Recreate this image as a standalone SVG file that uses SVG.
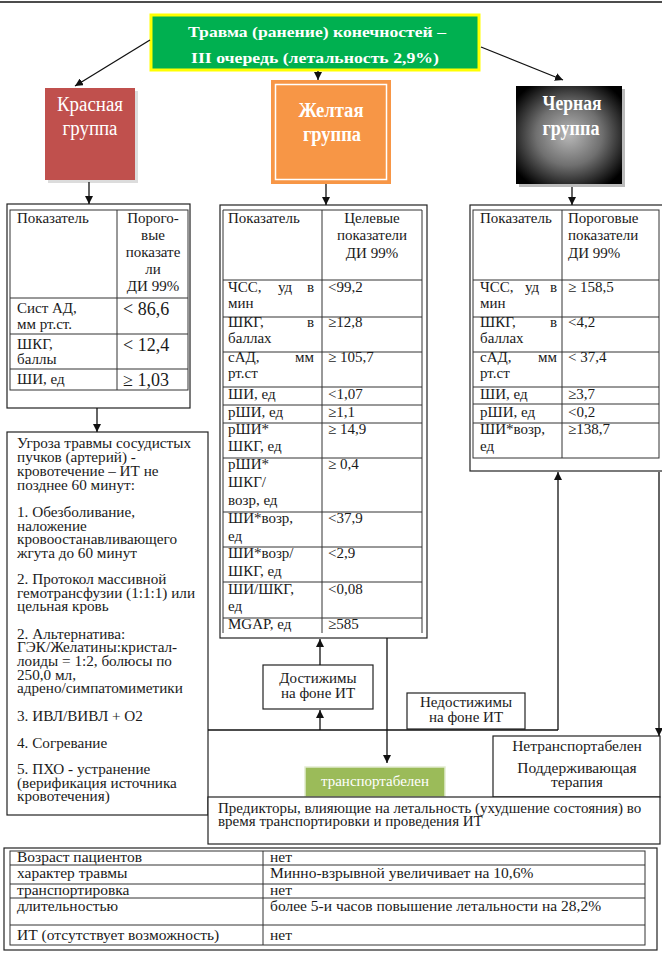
<svg xmlns="http://www.w3.org/2000/svg" width="662" height="955" viewBox="0 0 662 955">
<style>
text{font-family:"Liberation Serif","Times New Roman",serif;fill:#1a1a1a;font-size:15px}
.w{fill:#fff}
.b{font-weight:bold}
.c{text-anchor:middle}
.e{text-anchor:end}
.v{font-size:18px}
.t{font-size:15.2px}
.f{font-size:15.5px}
.g{font-size:20px}
.box{fill:#fff;stroke:#222;stroke-width:1.2}
.grid{fill:none;stroke:#333;stroke-width:1}
.ln{stroke:#111;stroke-width:1.3;fill:none}
</style>
<defs>
<marker id="ah" markerWidth="8" markerHeight="8" refX="8" refY="4" orient="auto" markerUnits="userSpaceOnUse">
<path d="M0,0 L8,4 L0,8 z" fill="#111"/>
</marker>
<radialGradient id="bg" cx="50%" cy="50%" r="62%">
<stop offset="0" stop-color="#b8b8b8"/>
<stop offset="0.5" stop-color="#707070"/>
<stop offset="1" stop-color="#000"/>
</radialGradient>
</defs>
<rect width="662" height="955" fill="#fff"/>
<line x1="0" y1="2" x2="662" y2="2" stroke="#111" stroke-width="1.5"/>

<g id="title">
<rect x="151" y="15" width="328" height="55" fill="#00b050" stroke="#ffff00" stroke-width="3"/>
<text x="317" y="37" class="w b c" font-size="18" textLength="258" lengthAdjust="spacingAndGlyphs">Травма (ранение) конечностей –</text>
<text x="315" y="63" class="w b c" font-size="18" textLength="248" lengthAdjust="spacingAndGlyphs">III очередь (летальность 2,9%)</text>
</g>

<g id="red-group">
<rect x="48" y="91" width="90" height="92" fill="#dcdcdc"/>
<rect x="45" y="88" width="90" height="92" fill="#c0504d"/>
<text x="90" y="111" class="w c g" textLength="66" lengthAdjust="spacingAndGlyphs">Красная</text>
<text x="90" y="135" class="w c g" textLength="55" lengthAdjust="spacingAndGlyphs">группа</text>
</g>

<g id="yellow-group">
<rect x="271" y="80" width="120" height="104" fill="#f79646"/>
<rect x="275.5" y="84.5" width="111" height="95" fill="none" stroke="#fff" stroke-width="1.5"/>
<text x="331" y="117" class="w b c g" textLength="65" lengthAdjust="spacingAndGlyphs">Желтая</text>
<text x="332" y="141" class="w b c g" textLength="58" lengthAdjust="spacingAndGlyphs">группа</text>
</g>

<g id="black-group">
<rect x="519" y="89" width="106" height="98" fill="#bbb"/>
<rect x="516" y="86" width="106" height="98" fill="url(#bg)"/>
<text x="572" y="110" class="w b c g" textLength="59" lengthAdjust="spacingAndGlyphs">Черная</text>
<text x="571" y="135" class="w b c g" textLength="57" lengthAdjust="spacingAndGlyphs">группа</text>
</g>

<g id="red-table">
<rect x="7" y="204" width="183" height="204" class="box"/>
<rect x="10" y="210" width="178" height="180" class="grid"/>
<line x1="117" y1="210" x2="117" y2="390" class="grid"/>
<line x1="10" y1="298" x2="188" y2="298" class="grid"/>
<line x1="10" y1="334" x2="188" y2="334" class="grid"/>
<line x1="10" y1="369" x2="188" y2="369" class="grid"/>
<text x="17" y="223">Показатель</text>
<text x="153" y="223" class="c">Порого-</text>
<text x="153" y="240" class="c">вые</text>
<text x="153" y="257" class="c">показате</text>
<text x="153" y="274" class="c">ли</text>
<text x="153" y="291" class="c">ДИ 99%</text>
<text x="17" y="313">Сист АД,</text>
<text x="17" y="329" font-size="14">мм рт.ст.</text>
<text x="123" y="315" class="v">&lt; 86,6</text>
<text x="17" y="349">ШКГ,</text>
<text x="17" y="364" font-size="14">баллы</text>
<text x="123" y="351" class="v">&lt; 12,4</text>
<text x="17" y="384">ШИ, ед</text>
<text x="123" y="386" class="v">≥ 1,03</text>
</g>

<g id="yellow-table">
<rect x="220" y="205" width="207" height="433" class="box"/>
<polyline points="223,633 223,210 422,210 422,633" class="grid"/>
<line x1="322" y1="210" x2="322" y2="633" class="grid"/>
<line x1="223" y1="280" x2="422" y2="280" class="grid"/>
<line x1="223" y1="317" x2="422" y2="317" class="grid"/>
<line x1="223" y1="352" x2="422" y2="352" class="grid"/>
<line x1="223" y1="387" x2="422" y2="387" class="grid"/>
<line x1="223" y1="405" x2="422" y2="405" class="grid"/>
<line x1="223" y1="423" x2="422" y2="423" class="grid"/>
<line x1="223" y1="458" x2="422" y2="458" class="grid"/>
<line x1="223" y1="512" x2="422" y2="512" class="grid"/>
<line x1="223" y1="547" x2="422" y2="547" class="grid"/>
<line x1="223" y1="582" x2="422" y2="582" class="grid"/>
<line x1="223" y1="618" x2="422" y2="618" class="grid"/>
<text x="228" y="223">Показатель</text>
<text x="372" y="223" class="c">Целевые</text>
<text x="372" y="240" class="c">показатели</text>
<text x="372" y="258" class="c">ДИ 99%</text>
<text x="228" y="292">ЧСС,</text><text x="278" y="292">уд</text><text x="314" y="292" class="e">в</text>
<text x="228" y="308">мин</text>
<text x="328" y="292">&lt;99,2</text>
<text x="228" y="327">ШКГ,</text><text x="314" y="327" class="e">в</text>
<text x="228" y="343">баллах</text>
<text x="328" y="327">≥12,8</text>
<text x="228" y="362">сАД,</text><text x="314" y="362" class="e">мм</text>
<text x="228" y="378">рт.ст</text>
<text x="328" y="362">≥ 105,7</text>
<text x="228" y="399">ШИ, ед</text>
<text x="328" y="399">&lt;1,07</text>
<text x="228" y="417">рШИ, ед</text>
<text x="328" y="417">≥1,1</text>
<text x="228" y="434">рШИ*</text>
<text x="228" y="451">ШКГ, ед</text>
<text x="328" y="434">≥ 14,9</text>
<text x="228" y="469">рШИ*</text>
<text x="228" y="487">ШКГ/</text>
<text x="228" y="505">возр, ед</text>
<text x="328" y="469">≥ 0,4</text>
<text x="228" y="523">ШИ*возр,</text>
<text x="228" y="541">ед</text>
<text x="328" y="523">&lt;37,9</text>
<text x="228" y="558">ШИ*возр/</text>
<text x="228" y="576">ШКГ, ед</text>
<text x="328" y="558">&lt;2,9</text>
<text x="228" y="594">ШИ/ШКГ,</text>
<text x="228" y="611">ед</text>
<text x="328" y="594">&lt;0,08</text>
<text x="228" y="629">MGAP, ед</text>
<text x="328" y="629">≥585</text>
</g>

<g id="black-table">
<rect x="470" y="205" width="195" height="266" class="box"/>
<rect x="473" y="210" width="186" height="248" class="grid"/>
<line x1="562" y1="210" x2="562" y2="458" class="grid"/>
<line x1="473" y1="280" x2="659" y2="280" class="grid"/>
<line x1="473" y1="317" x2="659" y2="317" class="grid"/>
<line x1="473" y1="352" x2="659" y2="352" class="grid"/>
<line x1="473" y1="387" x2="659" y2="387" class="grid"/>
<line x1="473" y1="404" x2="659" y2="404" class="grid"/>
<line x1="473" y1="423" x2="659" y2="423" class="grid"/>
<text x="480" y="223">Показатель</text>
<text x="568" y="223">Пороговые</text>
<text x="568" y="240">показатели</text>
<text x="568" y="258">ДИ 99%</text>
<text x="480" y="292">ЧСС,</text><text x="525" y="292">уд</text><text x="557" y="292" class="e">в</text>
<text x="480" y="308">мин</text>
<text x="568" y="292">≥ 158,5</text>
<text x="480" y="327">ШКГ,</text><text x="557" y="327" class="e">в</text>
<text x="480" y="343">баллах</text>
<text x="568" y="327">&lt;4,2</text>
<text x="480" y="362">сАД,</text><text x="557" y="362" class="e">мм</text>
<text x="480" y="378">рт.ст</text>
<text x="568" y="362">&lt; 37,4</text>
<text x="480" y="399">ШИ, ед</text>
<text x="568" y="399">≥3,7</text>
<text x="480" y="417">рШИ, ед</text>
<text x="568" y="417">&lt;0,2</text>
<text x="480" y="434">ШИ*возр,</text>
<text x="480" y="451">ед</text>
<text x="568" y="434">≥138,7</text>
</g>

<g id="threat">
<rect x="7" y="432" width="201" height="383" class="box"/>
<text x="17" y="448" class="t">Угроза травмы сосудистых</text>
<text x="17" y="462" class="t">пучков (артерий)  -</text>
<text x="17" y="476" class="t">кровотечение – ИТ не</text>
<text x="17" y="490" class="t">позднее 60 минут:</text>
<text x="17" y="517" class="t">1. Обезболивание,</text>
<text x="17" y="531" class="t">наложение</text>
<text x="17" y="544" class="t">кровоостанавливающего</text>
<text x="17" y="558" class="t">жгута до 60 минут</text>
<text x="17" y="584" class="t">2. Протокол массивной</text>
<text x="17" y="598" class="t">гемотрансфузии (1:1:1) или</text>
<text x="17" y="611" class="t">цельная кровь</text>
<text x="17" y="639" class="t">2. Альтернатива:</text>
<text x="17" y="652" class="t">ГЭК/Желатины:кристал-</text>
<text x="17" y="666" class="t">лоиды = 1:2, болюсы по</text>
<text x="17" y="680" class="t">250,0 мл,</text>
<text x="17" y="693" class="t">адрено/симпатомиметики</text>
<text x="17" y="721" class="t">3. ИВЛ/ВИВЛ + О2</text>
<text x="17" y="748" class="t">4. Согревание</text>
<text x="17" y="774" class="t">5. ПХО - устранение</text>
<text x="17" y="788" class="t">(верификация источника</text>
<text x="17" y="801" class="t">кровотечения)</text>
</g>

<g id="reachable">
<rect x="263" y="665" width="110" height="44" class="box"/>
<text x="318" y="683" class="c" font-size="16">Достижимы</text>
<text x="318" y="698" class="c" font-size="16">на фоне ИТ</text>
</g>

<g id="unreachable">
<rect x="407" y="693" width="118" height="36" class="box"/>
<text x="466" y="707" class="c" font-size="16">Недостижимы</text>
<text x="466" y="722" class="c" font-size="16">на фоне ИТ</text>
</g>

<g id="transportable">
<rect x="305" y="767" width="140" height="30" fill="#9bbb59" stroke="#e2ebd0" stroke-width="1.5"/>
<text x="375" y="786" class="w c" font-size="17.5">транспортабелен</text>
</g>

<g id="nontransportable">
<rect x="493" y="736" width="167" height="61" class="box"/>
<text x="577" y="751" class="c f">Нетранспортабелен</text>
<text x="577" y="773" class="c f">Поддерживающая</text>
<text x="577" y="787" class="c f">терапия</text>
</g>

<g id="predictors">
<rect x="208" y="797" width="452" height="47" class="box"/>
<text x="218" y="813" font-size="14">Предикторы, влияющие на летальность (ухудшение состояния) во</text>
<text x="218" y="826" font-size="14">время транспортировки и проведения ИТ</text>
</g>

<g id="factors-table">
<rect x="4" y="848" width="653" height="102" class="box"/>
<rect x="10" y="851" width="635" height="94" class="grid"/>
<line x1="263" y1="851" x2="263" y2="945" class="grid"/>
<line x1="10" y1="865" x2="645" y2="865" class="grid"/>
<line x1="10" y1="884" x2="645" y2="884" class="grid"/>
<line x1="10" y1="898" x2="645" y2="898" class="grid"/>
<line x1="10" y1="925" x2="645" y2="925" class="grid"/>
<text x="17" y="862" class="f">Возраст пациентов</text>
<text x="270" y="862" class="f">нет</text>
<text x="17" y="878" class="f">характер травмы</text>
<text x="270" y="878" class="f">Минно-взрывной увеличивает на 10,6%</text>
<text x="17" y="895" class="f">транспортировка</text>
<text x="270" y="895" class="f">нет</text>
<text x="17" y="911" class="f">длительностью</text>
<text x="270" y="911" class="f">более 5-и часов повышение летальности на 28,2%</text>
<text x="17" y="940" class="f">ИТ (отсутствует возможность)</text>
<text x="270" y="940" class="f">нет</text>
</g>

<g id="connectors">
<line x1="150" y1="40" x2="75" y2="86" class="ln" marker-end="url(#ah)"/>
<line x1="318" y1="71" x2="318" y2="80" class="ln" marker-end="url(#ah)"/>
<line x1="481" y1="47" x2="563" y2="80" class="ln" marker-end="url(#ah)"/>
<line x1="89" y1="182" x2="89" y2="204" class="ln" marker-end="url(#ah)"/>
<line x1="326" y1="184" x2="326" y2="205" class="ln" marker-end="url(#ah)"/>
<line x1="572" y1="187" x2="572" y2="205" class="ln" marker-end="url(#ah)"/>
<line x1="97" y1="408" x2="97" y2="432" class="ln" marker-end="url(#ah)"/>
<line x1="320" y1="665" x2="320" y2="639" class="ln" marker-end="url(#ah)"/>
<line x1="208" y1="730" x2="558" y2="730" class="ln"/>
<line x1="320" y1="730" x2="320" y2="710" class="ln" marker-end="url(#ah)"/>
<line x1="558" y1="730" x2="558" y2="472" class="ln" marker-end="url(#ah)"/>
<line x1="387" y1="638" x2="387" y2="763" class="ln" marker-end="url(#ah)"/>
<line x1="659" y1="472" x2="659" y2="736" class="ln" marker-end="url(#ah)"/>
</g>
</svg>
